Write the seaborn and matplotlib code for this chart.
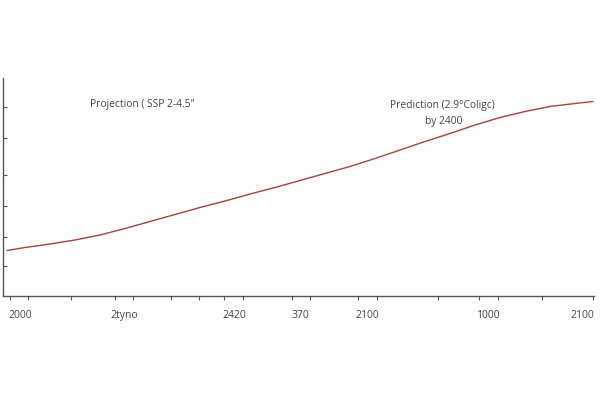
import pandas as pd
import matplotlib.pyplot as plt
import seaborn as sns

# Projected warming curve
years = [2002.7, 2014.9, 2031.8, 2048.7, 2065.7, 2082.6, 2099.5, 2116.4,
         2133.3, 2150.3, 2167.2, 2184.1, 2201.0, 2217.9, 2234.8, 2251.8,
         2268.7, 2285.6, 2302.5, 2319.4, 2336.4, 2353.3, 2370.2, 2387.1, 2399.3]
temp = [0.91, 0.97, 1.04, 1.12, 1.22, 1.35, 1.49, 1.63,
        1.77, 1.90, 2.04, 2.17, 2.31, 2.45, 2.59, 2.75,
        2.92, 3.09, 3.25, 3.42, 3.57, 3.69, 3.79, 3.85, 3.89]

tick_years = [2011.5, 2081.9, 2156.4, 2201.0, 2246.4, 2328.3, 2391.9]
tick_labels = ["2000", "2tyno", "2420", "370", "2100", "1000", "2100"]
minor_years = [2004.7, 2016.9, 2046.0, 2075.8, 2088.0, 2113.7, 2132.7,
               2149.6, 2162.4, 2195.6, 2207.8, 2240.3, 2253.2, 2294.4,
               2322.2, 2335.0, 2364.8, 2399.3]
y_ticks = [0.61, 1.19, 1.81, 2.42, 3.17, 3.79]

df = pd.DataFrame({"year": years, "temp": temp})

sns.set_style("white")
plt.rcParams['font.family'] = ['Open Sans', 'DejaVu Sans']

fig = plt.figure(figsize=(6, 4), dpi=100)
ax = fig.add_axes([0.005, 0.26, 0.985, 0.545])

sns.lineplot(data=df, x="year", y="temp", color="#a8403f", linewidth=1.0, ax=ax)

ax.set_xlim(2000, 2400)
ax.set_ylim(0, 4.36)
ax.set_xlabel("")
ax.set_ylabel("")

ax.set_xticks(tick_years)
ax.set_xticklabels(tick_labels, fontsize=7.5, color="#444444")
ax.set_xticks(minor_years, minor=True)
ax.tick_params(axis="x", which="major", bottom=True, length=0, pad=10)
ax.tick_params(axis="x", which="minor", bottom=True, length=3, width=0.8,
               color="#555555", direction="out")

ax.set_yticks(y_ticks)
ax.set_yticklabels([])
ax.tick_params(axis="y", which="major", left=True, length=3, width=0.8,
               color="#555555", direction="in")

for s in ["top", "right"]:
    ax.spines[s].set_visible(False)
for s in ["left", "bottom"]:
    ax.spines[s].set_color("#555555")
    ax.spines[s].set_linewidth(1.0)

ax.text(2094.0, 3.83, 'Projection ( SSP 2-4.5"', fontsize=7.4, color="#444444",
        ha="center", va="center")
ax.text(2297.1, 3.81, "Prediction (2.9°Coligc)", fontsize=7.4, color="#444444",
        ha="center", va="center")
ax.text(2298.2, 3.49, "by 2400", fontsize=7.4, color="#444444",
        ha="center", va="center")

plt.savefig("out.png", dpi=100)
